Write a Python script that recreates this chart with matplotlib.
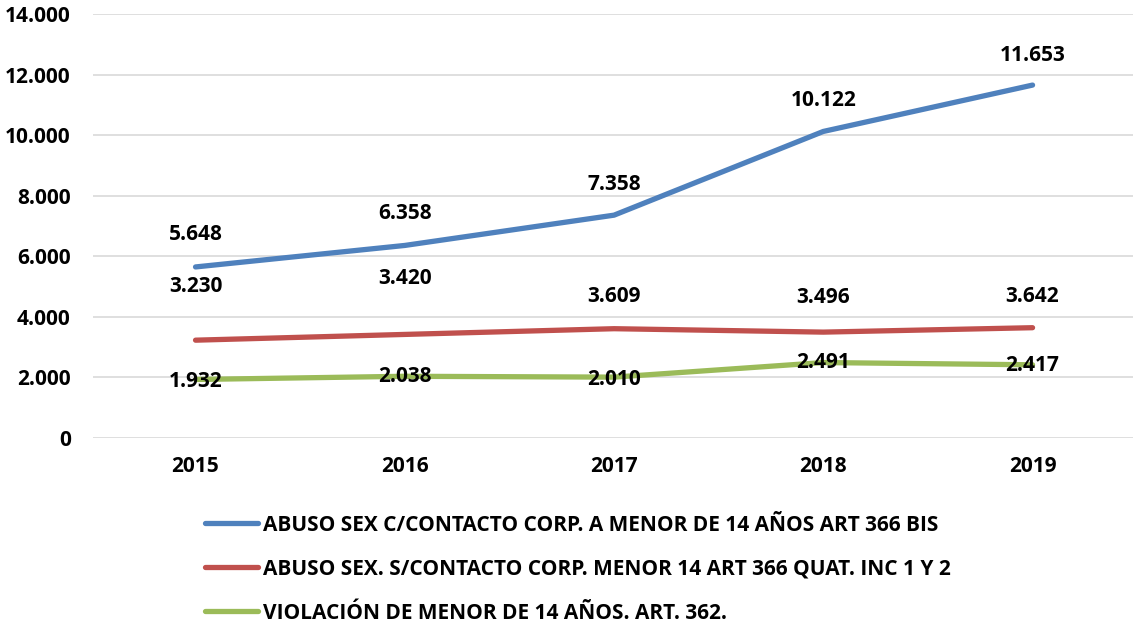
import matplotlib
matplotlib.use("Agg")
import matplotlib.pyplot as plt
from matplotlib.ticker import FuncFormatter

years = ["2015", "2016", "2017", "2018", "2019"]
abuso_con = [5648, 6358, 7358, 10122, 11653]
abuso_sin = [3230, 3420, 3609, 3496, 3642]
violacion = [1932, 2038, 2010, 2491, 2417]
labels = [
    "ABUSO SEX C/CONTACTO CORP. A MENOR DE 14 AÑOS ART 366 BIS",
    "ABUSO SEX. S/CONTACTO CORP. MENOR 14 ART 366 QUAT. INC 1 Y 2",
    "VIOLACIÓN DE MENOR DE 14 AÑOS. ART. 362.",
]
colors = ["#4F81BD", "#C0504D", "#9BBB59"]
yticks = [0, 2000, 4000, 6000, 8000, 10000, 12000, 14000]

# label offsets in pixels (vertical), style only
off_con = [32, 32, 31, 31, 30]
off_sin = [54, 56, 32, 35, 31]
off_vio = [-2, 0, -2, 0, -1]

plt.rcParams['font.family'] = ['Open Sans', 'DejaVu Sans']
plt.rcParams['font.weight'] = 'bold'
FS = 15

def fmt(v):
    return f"{int(v):,}".replace(",", ".")

fig = plt.figure(figsize=(11.33, 6.24), dpi=100)
ax = fig.add_axes([93/1133, 1 - 438/624, 1 - 93/1133, (438-14)/624])
x = list(range(len(years)))
series = [abuso_con, abuso_sin, violacion]
offs = [off_con, off_sin, off_vio]
for s, c, lab, off in zip(series, colors, labels, offs):
    ax.plot(x, s, color=c, lw=3.8, solid_capstyle='round', label=lab, zorder=3)
    for xi, yi, o in zip(x, s, off):
        ax.annotate(fmt(yi), (xi, yi), xytext=(0, o * 0.72), textcoords='offset points',
                    ha='center', va='center', fontsize=FS, fontweight='bold', zorder=4)

ax.set_xlim(-0.49, 4.48)
ax.set_ylim(0, 14000)
ax.set_yticks(yticks)
ax.yaxis.set_major_formatter(FuncFormatter(lambda v, p: fmt(v)))
ax.set_xticks(x)
ax.set_xticklabels(years)
ax.grid(axis='y', color='#D9D9D9', lw=1.2)
ax.set_axisbelow(True)
for sp in ax.spines.values():
    sp.set_visible(False)
ax.tick_params(axis='both', length=0, labelsize=FS)
ax.tick_params(axis='y', pad=16)
ax.tick_params(axis='x', pad=13)
for t in ax.get_xticklabels() + ax.get_yticklabels():
    t.set_fontweight('bold')

fig.legend(loc='upper left', bbox_to_anchor=(186/1133, 1 - 496/624), frameon=False,
           handlelength=2.55, handletextpad=0.25, labelspacing=1.1,
           prop={'weight': 'bold', 'size': FS})

fig.savefig("out.png", dpi=100)
